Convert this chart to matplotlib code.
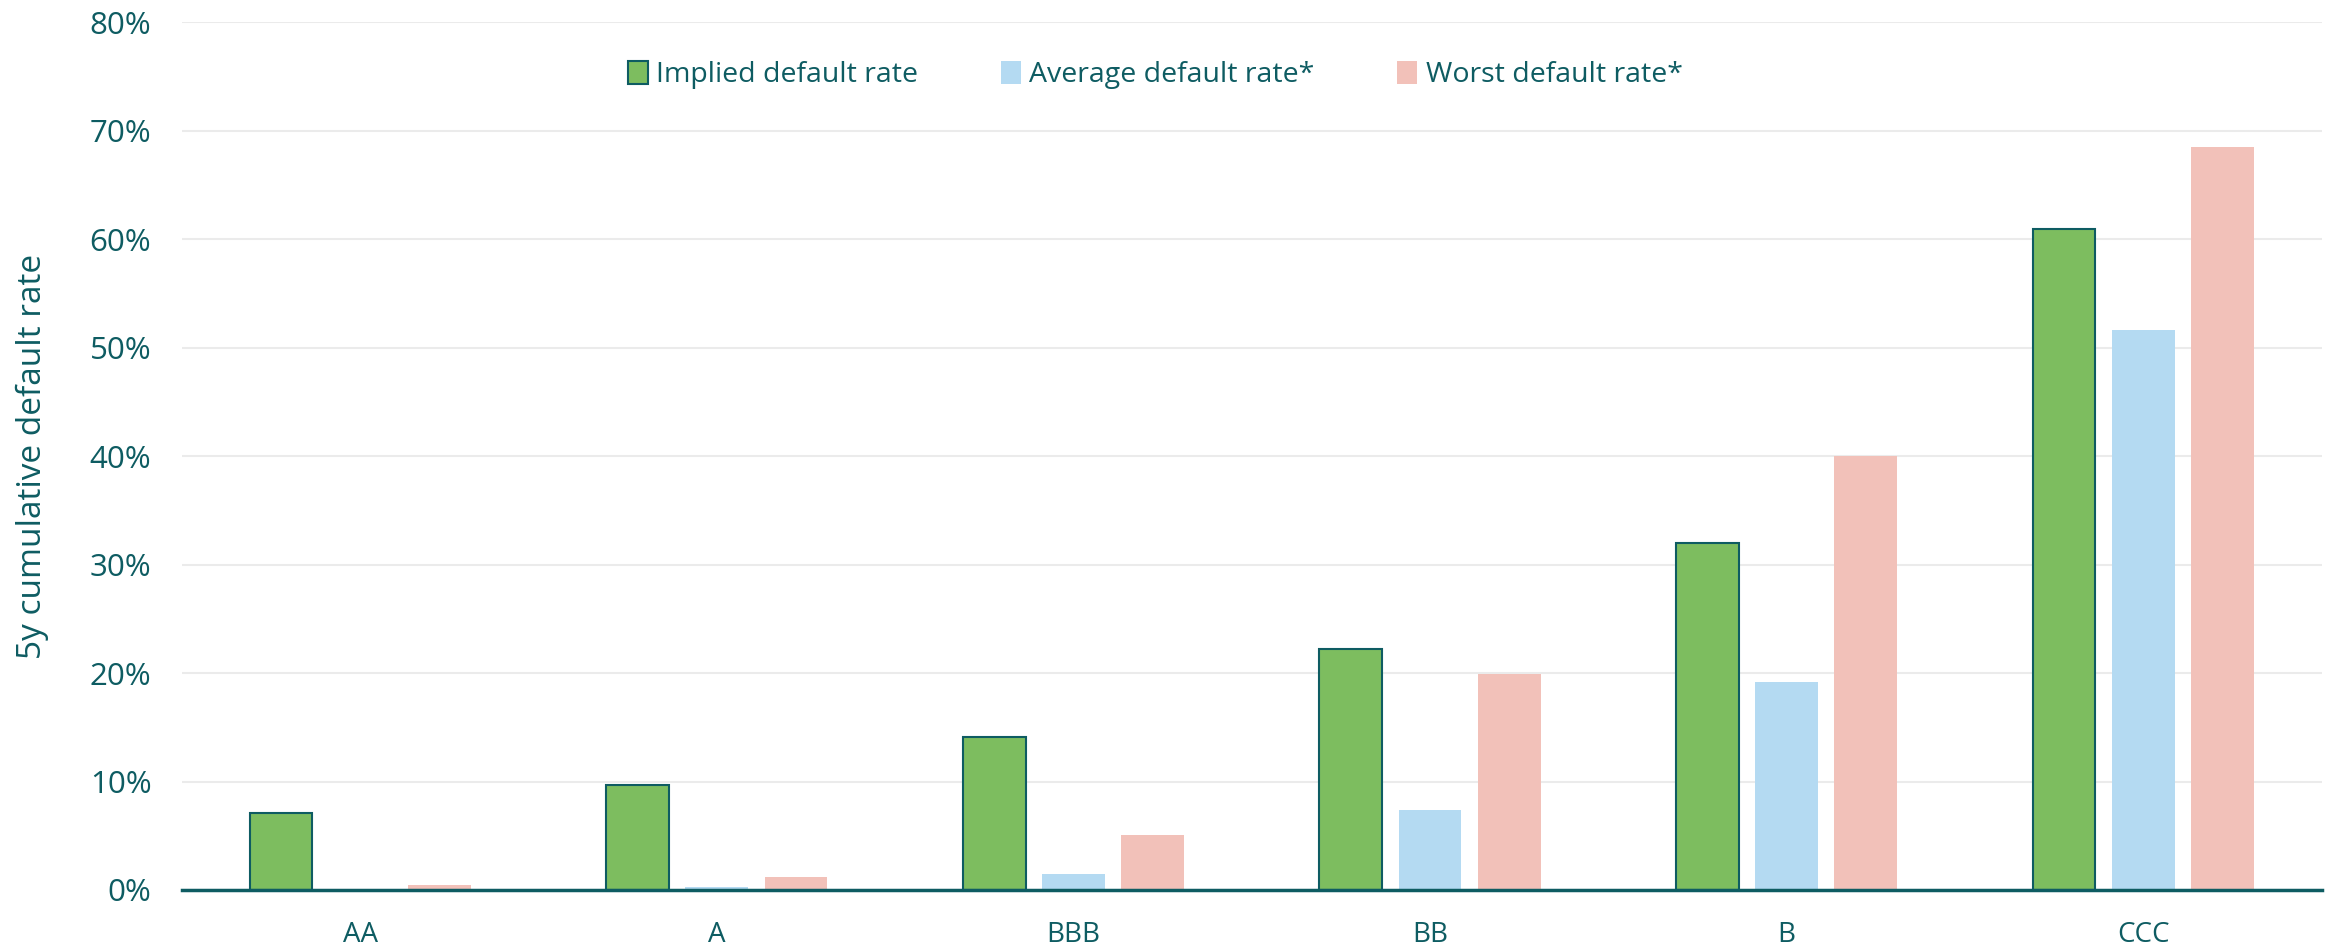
import numpy as np
import matplotlib.pyplot as plt
from matplotlib.ticker import PercentFormatter

# ratings and 5y cumulative default rates (%)
ratings = ['AA', 'A', 'BBB', 'BB', 'B', 'CCC']
implied = [7.1, 9.7, 14.1, 22.2, 32.0, 60.9]
average = [0.0, 0.3, 1.5, 7.4, 19.2, 51.6]
worst = [0.5, 1.2, 5.1, 19.9, 40.0, 68.5]

teal = '#0E5C62'
plt.rcParams['font.family'] = ['Open Sans', 'DejaVu Sans']

fig = plt.figure(figsize=(23.41, 9.46), dpi=100)
ax = fig.add_axes([0.0777, 0.0592, 0.914, 0.9175])

x = np.arange(len(ratings))
w = 0.176
off = 0.222
ax.bar(x - off, implied, w, color='#7DBD5F', edgecolor=teal, linewidth=1.5,
       label='Implied default rate', zorder=3)
ax.bar(x, average, w, color='#B4DAF2', label='Average default rate*', zorder=3)
ax.bar(x + off, worst, w, color='#F2C1B9', label='Worst default rate*', zorder=3)

ax.set_xlim(-0.5, len(ratings) - 0.5)
ax.set_ylim(0, 80)
ax.set_yticks(np.arange(0, 81, 10))
ax.yaxis.set_major_formatter(PercentFormatter(decimals=0))
ax.grid(axis='y', color='#EBEBEB', linewidth=1.5, zorder=0)

for s in ['top', 'right', 'left']:
    ax.spines[s].set_visible(False)
ax.spines['bottom'].set_color(teal)
ax.spines['bottom'].set_linewidth(2.5)
ax.spines['bottom'].set_zorder(4)

ax.set_xticks(x)
ax.set_xticklabels(ratings)
ax.tick_params(axis='x', length=0, pad=22, labelsize=20, labelcolor=teal)
ax.tick_params(axis='y', length=0, pad=22, labelsize=22.5, labelcolor=teal)

ax.set_ylabel('5y cumulative default rate', fontsize=24, color=teal)
ax.yaxis.set_label_coords(-0.062, 0.5)

leg = ax.legend(loc='upper center', bbox_to_anchor=(0.455, 0.985), ncol=3, frameon=False,
                prop={'size': 20.5}, handlelength=0.7, handleheight=0.9,
                columnspacing=2.9, handletextpad=0.3)
for t in leg.get_texts():
    t.set_color(teal)

plt.savefig('out.png', dpi=100)
